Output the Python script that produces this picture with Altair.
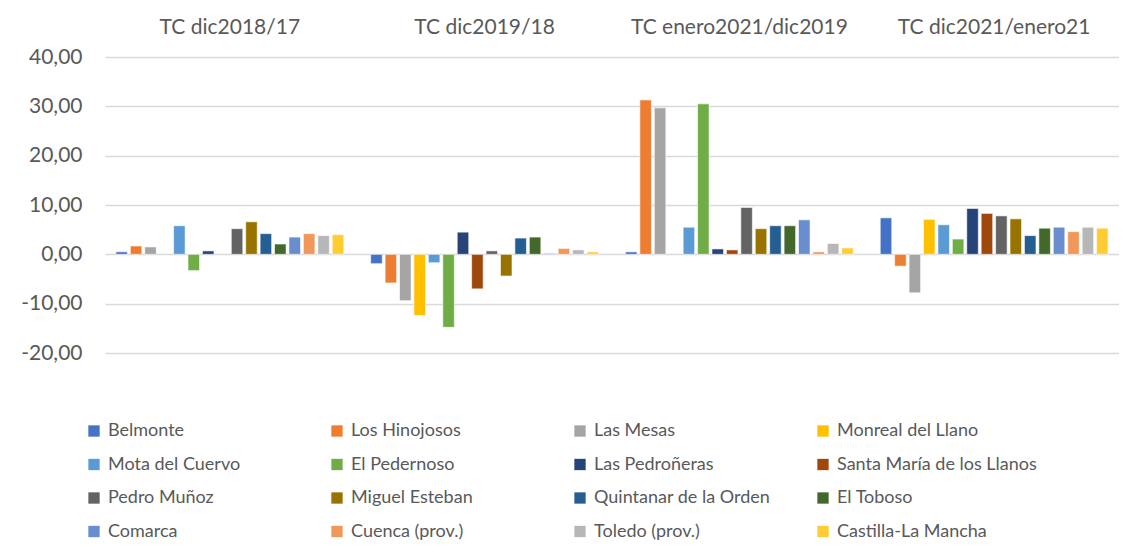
import altair as alt
import pandas as pd

groups = ["TC dic2018/17", "TC dic2019/18", "TC enero2021/dic2019", "TC dic2021/enero21"]

series = [
    "Belmonte", "Los Hinojosos", "Las Mesas", "Monreal del Llano",
    "Mota del Cuervo", "El Pedernoso", "Las Pedroñeras", "Santa María de los Llanos",
    "Pedro Muñoz", "Miguel Esteban", "Quintanar de la Orden", "El Toboso",
    "Comarca", "Cuenca (prov.)", "Toledo (prov.)", "Castilla-La Mancha",
]

colors = [
    "#4472C4", "#ED7D31", "#A5A5A5", "#FFC000",
    "#5B9BD5", "#70AD47", "#264478", "#9E480E",
    "#636363", "#997300", "#255E91", "#43682B",
    "#698ED0", "#F1975A", "#B7B7B7", "#FFCD33",
]

belmonte = [0.5, -1.9, 0.5, 7.4]
los_hinojosos = [1.7, -5.8, 31.3, -2.4]
las_mesas = [1.5, -9.4, 29.7, -7.8]
monreal_del_llano = [None, -12.4, None, 7.1]
mota_del_cuervo = [5.8, -1.7, 5.5, 6.0]
el_pedernoso = [-3.3, -14.8, 30.5, 3.1]
las_pedroneras = [0.7, 4.5, 1.1, 9.3]
santa_maria = [None, -7.0, 0.9, 8.3]
pedro_munoz = [5.2, 0.7, 9.5, 7.8]
miguel_esteban = [6.6, -4.4, 5.2, 7.2]
quintanar = [4.2, 3.3, 5.8, 3.8]
el_toboso = [2.1, 3.5, 5.8, 5.3]
comarca = [3.5, 0.2, 7.0, 5.5]
cuenca = [4.2, 1.2, 0.5, 4.6]
toledo = [3.8, 0.9, 2.2, 5.5]
castilla_la_mancha = [4.0, 0.5, 1.3, 5.3]

values_by_series = [
    belmonte, los_hinojosos, las_mesas, monreal_del_llano,
    mota_del_cuervo, el_pedernoso, las_pedroneras, santa_maria,
    pedro_munoz, miguel_esteban, quintanar, el_toboso,
    comarca, cuenca, toledo, castilla_la_mancha,
]

rows = []
for s, vals in zip(series, values_by_series):
    for g, v in zip(groups, vals):
        if v is not None:
            rows.append({"grupo": g, "serie": s, "valor": v})
df = pd.DataFrame(rows)

FONT = "Lato"
TXT = "#595959"

chart = alt.Chart(df).mark_bar(stroke="white", strokeWidth=0.6).encode(
    x=alt.X(
        "grupo:N", sort=groups, title=None,
        scale=alt.Scale(paddingInner=0.1, paddingOuter=0.04),
        axis=alt.Axis(
            orient="top", labelAngle=0, labelFontSize=21, labelColor=TXT,
            labelFont=FONT, domain=False, ticks=False, labelPadding=24,
            labelBaseline="alphabetic", minExtent=49, grid=False, labelLimit=400,
        ),
    ),
    xOffset=alt.XOffset("serie:N", sort=series,
                        scale=alt.Scale(paddingInner=0.2, paddingOuter=0.05)),
    y=alt.Y(
        "valor:Q", title=None,
        scale=alt.Scale(domain=[-20, 40], nice=False, zero=False),
        axis=alt.Axis(
            values=[-20, -10, 0, 10, 20, 30, 40],
            labelExpr="replace(replace(format(datum.value, '.2f'), '.', ','), '\u2212', '-')",
            labelFontSize=21, labelColor=TXT, labelFont=FONT,
            domain=False, ticks=False, labelPadding=23, minExtent=97,
            grid=True, gridColor="#D9D9D9", gridWidth=1.3,
        ),
    ),
    color=alt.Color(
        "serie:N", sort=series,
        scale=alt.Scale(domain=series, range=colors),
        legend=alt.Legend(
            title=None, orient="none", legendX=-20, legendY=365, columns=4,
            direction="horizontal",
            symbolType="square", symbolSize=128, symbolStrokeWidth=0,
            labelFontSize=18, labelColor=TXT, labelFont=FONT, labelOffset=5,
            rowPadding=15.5, columnPadding=20, gridAlign="all", labelLimit=400,
        ),
    ),
).properties(
    width=1014, height=296, padding=0
).configure_view(stroke=None)

chart.save("out.html", embed_options={"renderer": "svg", "actions": False})
